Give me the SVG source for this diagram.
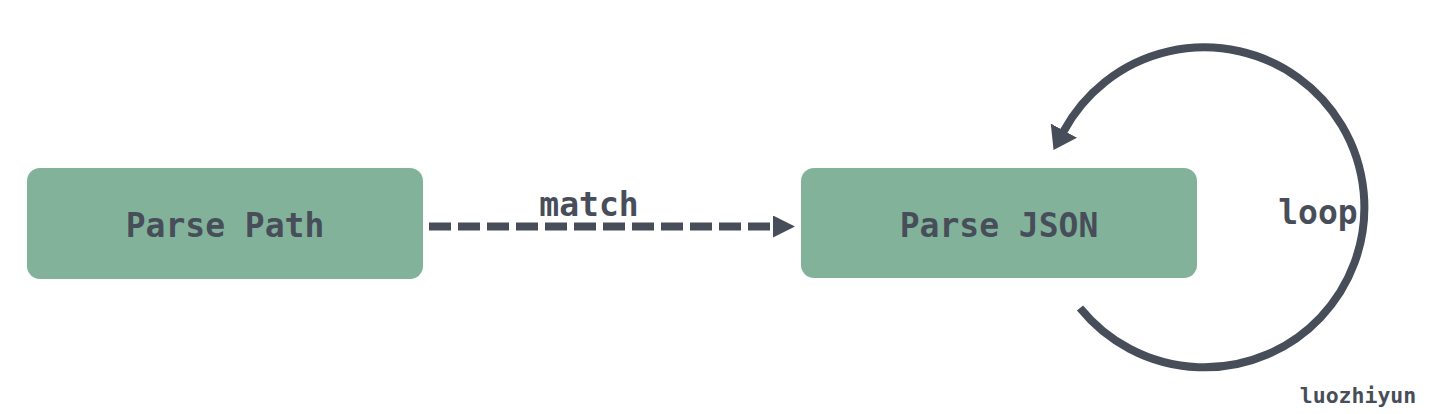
<svg xmlns="http://www.w3.org/2000/svg" width="1431" height="414" viewBox="0 0 1431 414">
<style>
.node rect{fill:#82b39a;}
.lbl{font-family:"DejaVu Sans Mono","Liberation Mono",monospace;font-weight:bold;fill:#474e5a;text-anchor:middle;}
.big{font-size:33px;}
.edge{fill:none;stroke:#474e5a;stroke-width:8;}
</style>
<defs>
<marker id="arr" markerUnits="userSpaceOnUse" markerWidth="24" markerHeight="22" refX="2" refY="11" orient="auto" viewBox="0 0 24 22">
<path d="M0 0 L22 11 L0 22 Z" fill="#474e5a"/>
</marker>
<marker id="arr2" markerUnits="userSpaceOnUse" markerWidth="24" markerHeight="30" refX="1" refY="15" orient="auto" viewBox="0 0 24 30">
<path d="M0 0 L22 15 L0 30 Z" fill="#474e5a"/>
</marker>
</defs>
<rect width="1431" height="414" fill="#ffffff"/>
<g id="node-parse-path" class="node">
<rect x="27" y="168" width="396" height="111" rx="13"/>
<text class="lbl big" x="225" y="237">Parse Path</text>
</g>
<g id="node-parse-json" class="node">
<rect x="801" y="168" width="396" height="110" rx="13"/>
<text class="lbl big" x="999" y="237">Parse JSON</text>
</g>
<g id="connectors">
<path class="edge" d="M429 226.5 H775" stroke-dasharray="22 7" marker-end="url(#arr)"/>
<text class="lbl big" x="589" y="216">match</text>
<path class="edge" d="M1080 308 A160 160 0 1 0 1063.5 131.5" marker-end="url(#arr2)"/>
<text class="lbl big" x="1318" y="224">loop</text>
</g>
<text class="lbl" x="1358" y="403" font-size="21.5">luozhiyun</text>
</svg>
